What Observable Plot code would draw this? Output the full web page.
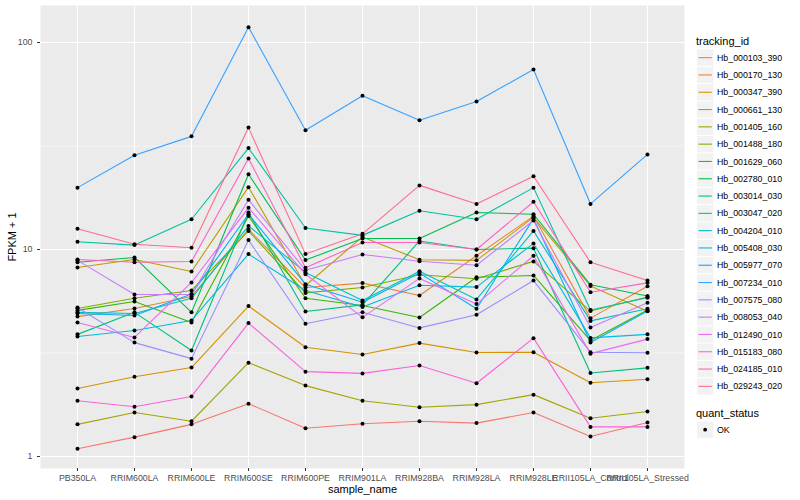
<!DOCTYPE html>
<html><head><meta charset="utf-8">
<script src="https://cdn.jsdelivr.net/npm/d3@7"></script>
<script src="https://cdn.jsdelivr.net/npm/@observablehq/plot@0.6"></script>
<style>
body{margin:0;background:#fff;font-family:"Liberation Sans",Arial,Helvetica,sans-serif;}
#wrap{position:relative;width:800px;height:500px;overflow:hidden;}
#wrap svg{position:absolute;left:0;top:0;}
g[aria-label="y-axis label"] text, g[aria-label="x-axis label"] text{font-size:11px;fill:#000;}
</style></head><body><div id="wrap"></div>
<script>
const samples = ["PB350LA","RRIM600LA","RRIM600LE","RRIM600SE","RRIM600PE","RRIM901LA","RRIM928BA","RRIM928LA","RRIM928LE","RRII105LA_Control","RRII105LA_Stressed"];
const trackingIds = ["Hb_000103_390","Hb_000170_130","Hb_000347_390","Hb_000661_130","Hb_001405_160","Hb_001488_180","Hb_001629_060","Hb_002780_010","Hb_003014_030","Hb_003047_020","Hb_004204_010","Hb_005408_030","Hb_005977_070","Hb_007234_010","Hb_007575_080","Hb_008053_040","Hb_012490_010","Hb_015183_080","Hb_024185_010","Hb_029243_020"];
const colors = ["#F8766D","#EA8331","#D89000","#C09B00","#A3A500","#7CAE00","#39B600","#00BB4E","#00BF7D","#00C1A3","#00BFC4","#00BAE0","#00B0F6","#35A2FF","#9590FF","#C77CFF","#E76BF3","#FA62DB","#FF62BC","#FF6C91"];
const statusLevels = ["OK"];
const yTicks = [1, 10, 100];
const yMinor = [3.162, 31.62];

const hb_000103_390 = [1.09, 1.24, 1.43, 1.80, 1.37, 1.44, 1.48, 1.45, 1.63, 1.25, 1.46];
const hb_000170_130 = [4.74, 5.19, 5.93, 12.5, 6.55, 6.88, 5.99, 9.33, 14.5, 4.66, 6.64];
const hb_000347_390 = [2.13, 2.43, 2.69, 5.33, 3.37, 3.11, 3.53, 3.18, 3.19, 2.27, 2.36];
const hb_000661_130 = [8.18, 8.95, 7.83, 20.0, 6.7, 11.5, 8.92, 8.86, 14.3, 6.67, 5.03];
const hb_001405_160 = [1.43, 1.63, 1.48, 2.84, 2.2, 1.86, 1.73, 1.78, 1.99, 1.53, 1.65];
const hb_001488_180 = [5.19, 5.81, 6.34, 12.3, 6.17, 6.55, 7.55, 7.22, 8.76, 5.04, 5.9];
const hb_001629_060 = [5.08, 5.61, 4.44, 14.5, 5.81, 5.36, 4.69, 7.34, 7.49, 3.63, 5.1];
const hb_002780_010 = [8.67, 9.15, 4.97, 23.1, 8.89, 11.3, 11.3, 15.1, 14.8, 6.75, 5.96];
const hb_003014_030 = [3.89, 4.97, 3.25, 15.1, 5.02, 5.4, 11.0, 10.0, 10.15, 2.53, 2.68];
const hb_003047_020 = [10.9, 10.5, 14.0, 30.9, 12.7, 11.7, 15.4, 14.0, 19.9, 5.1, 5.85];
const hb_004204_010 = [4.97, 4.91, 5.81, 13.0, 7.75, 5.67, 7.85, 5.74, 12.3, 4.52, 5.17];
const hb_005408_030 = [3.80, 4.06, 4.54, 9.5, 6.34, 5.27, 6.72, 6.58, 10.7, 3.74, 3.89];
const hb_005977_070 = [4.91, 4.80, 6.1, 14.8, 6.8, 5.56, 7.69, 5.17, 14.1, 3.55, 5.05];
const hb_007234_010 = [19.9, 28.5, 35.2, 118.6, 37.7, 55.3, 42.1, 51.9, 74.1, 16.6, 28.8];
const hb_007575_080 = [5.25, 3.55, 2.97, 11.1, 4.38, 4.98, 4.18, 4.84, 7.08, 3.19, 3.17];
const hb_008053_040 = [8.86, 6.06, 6.06, 17.4, 7.94, 9.46, 8.77, 8.39, 13.8, 4.2, 5.53];
const hb_012490_010 = [4.44, 3.76, 6.93, 15.9, 7.59, 4.70, 7.25, 5.45, 9.33, 3.14, 3.69];
const hb_015183_080 = [1.86, 1.74, 1.95, 4.41, 2.57, 2.52, 2.75, 2.26, 3.73, 1.39, 1.39];
const hb_024185_010 = [8.95, 8.67, 8.75, 27.5, 8.16, 10.8, 10.8, 10.0, 17.0, 6.22, 6.9];
const hb_029243_020 = [12.6, 10.6, 10.2, 38.8, 9.5, 11.9, 20.4, 16.6, 22.6, 8.68, 7.08];

const seriesValues = [hb_000103_390, hb_000170_130, hb_000347_390, hb_000661_130, hb_001405_160, hb_001488_180, hb_001629_060, hb_002780_010, hb_003014_030, hb_003047_020, hb_004204_010, hb_005408_030, hb_005977_070, hb_007234_010, hb_007575_080, hb_008053_040, hb_012490_010, hb_015183_080, hb_024185_010, hb_029243_020];

const rows = trackingIds.flatMap((id, i) => samples.map((s, j) => ({tracking_id: id, sample_name: s, fpkm1: seriesValues[i][j], quant_status: "OK"})));

const chart = Plot.plot({
  width: 800, height: 500,
  marginLeft: 40, marginRight: 116, marginTop: 5, marginBottom: 32,
  style: {fontFamily: '"Liberation Sans", Arial, Helvetica, sans-serif', fontSize: "8.8px", background: "transparent", overflow: "visible"},
  x: {type: "point", domain: samples, padding: 0.6, label: null},
  y: {type: "log", domain: [0.875, 150.9], label: null},
  color: {domain: trackingIds, range: colors},
  marks: [
    Plot.frame({fill: "#EBEBEB", stroke: null}),
    Plot.ruleY(yMinor, {stroke: "#fff", strokeWidth: 0.55}),
    Plot.ruleY(yTicks, {stroke: "#fff", strokeWidth: 1.1}),
    Plot.ruleX(samples, {stroke: "#fff", strokeWidth: 1.1}),
    Plot.line(rows, {x: "sample_name", y: "fpkm1", z: "tracking_id", stroke: "tracking_id", strokeWidth: 1.1}),
    Plot.dot(rows, {x: "sample_name", y: "fpkm1", r: 2, fill: "#000", stroke: null}),
    Plot.axisY(yTicks, {tickSize: 3, tickPadding: 5, tickFormat: d => String(d), stroke: "#333", color: "#4D4D4D", label: "FPKM + 1", labelAnchor: "center", labelArrow: "none", labelOffset: 32}),
    Plot.axisX(samples, {tickSize: 3, tickPadding: 3, stroke: "#333", color: "#4D4D4D", label: "sample_name", labelAnchor: "center", labelArrow: "none", labelOffset: 24})
  ]
});
const wrap = document.getElementById("wrap");
wrap.appendChild(chart);

// legend (separate SVG on the right)
const step = 17.3;
const lg = d3.select(wrap).append("svg")
  .attr("width", 110).attr("height", 500)
  .style("left", "690px")
  .attr("font-family", '"Liberation Sans", Arial, Helvetica, sans-serif');
lg.append("text").attr("x", 6).attr("y", 44.5).attr("font-size", 11).attr("fill", "#000").text("tracking_id");
const items = lg.selectAll("g.item").data(trackingIds).join("g")
  .attr("class", "item")
  .attr("transform", (d, i) => `translate(0,${49 + i * step})`);
items.append("rect").attr("x", 7).attr("y", 0.5).attr("width", 16.3).attr("height", 16.3).attr("fill", "#F2F2F2");
items.append("line").attr("x1", 8.5).attr("x2", 21.8).attr("y1", 8.65).attr("y2", 8.65)
  .attr("stroke", (d, i) => colors[i]).attr("stroke-width", 1.1);
items.append("text").attr("x", 27).attr("y", 8.65).attr("dy", "0.35em").attr("font-size", 8.8).attr("fill", "#000").text(d => d);

lg.append("text").attr("x", 6).attr("y", 416.5).attr("font-size", 11).attr("fill", "#000").text("quant_status");
const st = lg.selectAll("g.st").data(statusLevels).join("g")
  .attr("class", "st")
  .attr("transform", (d, i) => `translate(0,${421 + i * step})`);
st.append("rect").attr("x", 7).attr("y", 0.5).attr("width", 16.3).attr("height", 16.3).attr("fill", "#F2F2F2");
st.append("circle").attr("cx", 15.15).attr("cy", 8.65).attr("r", 1.9).attr("fill", "#000");
st.append("text").attr("x", 27).attr("y", 8.65).attr("dy", "0.35em").attr("font-size", 8.8).attr("fill", "#000").text(d => d);
</script>
</body></html>
